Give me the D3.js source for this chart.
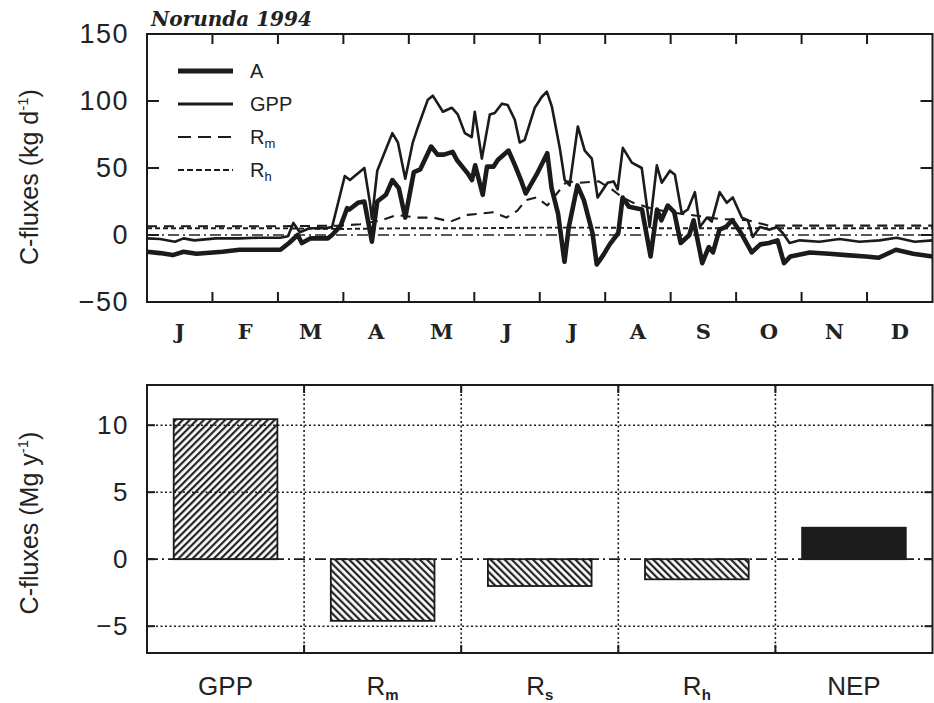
<!DOCTYPE html>
<html>
<head>
<meta charset="utf-8">
<script src="https://cdn.jsdelivr.net/npm/d3@7"></script>
<style>
  body { margin: 0; background: #fff; }
  svg { display: block; }
  .tick-label { font-family: 'Liberation Sans', Arial, sans-serif; fill: #222; }
</style>
</head>
<body>
<div class="svg-container"></div>
<script>
// ---- data ----
var months = ['J', 'F', 'M', 'A', 'M', 'J', 'J', 'A', 'S', 'O', 'N', 'D'];

var aDays = [0, 6, 12, 17, 23, 35, 43, 62, 66, 70, 72, 76, 84, 86, 90, 93, 94, 98, 101, 104.5,
  107, 111, 114, 117, 120, 124, 127, 132, 135, 138, 142, 144, 149, 151, 152.5, 156, 158, 161,
  163, 168, 171, 174, 176, 181, 186, 188, 191, 194, 196, 200, 203, 207, 209, 212, 215, 219, 221,
  224, 230, 234, 237, 239, 242, 245, 248, 252, 254, 258, 261, 263, 266, 269, 272, 276, 281, 285,
  289, 293, 296, 299, 308, 317, 325, 334, 340, 348, 356, 365];
var aValues = [-12.5, -13.5, -15, -12.5, -14, -12.5, -11, -11, -6, 0, -6, -2.5, -2.5, 0, 7, 20, 19, 24, 25, -5,
  25, 30, 41, 35, 13, 47, 49, 66, 60, 60, 62, 56, 46, 41, 52, 30, 51, 51,
  56, 63, 52, 40, 31, 45, 61, 35, 16, -20, 6, 37, 26, 1.5, -22, -15, -7, 1.5, 28,
  21, 19, -16, 19, 11, 22, 17, -6, 0, 11, -21, -9, -13, 4, 6, 11, 1.5, -13, -7,
  -6, -4, -21, -16, -13, -14, -15, -16, -17, -11, -14, -16];

var gppDays = [0, 6, 13, 17, 22, 32, 43, 52, 62, 65.5, 68, 71, 75.5, 83, 86, 91.9, 94.3, 101, 103.6, 104.5,
  107, 114, 116.6, 120, 123.5, 126, 130.5, 132.8, 137.5, 141.6, 144.4, 147.7, 150.9, 152.3, 155.6,
  159.3, 161.6, 164.9, 167.6, 170.9, 173.2, 175.5, 180.2, 183.4, 185.8, 188.1, 191.8, 194.1, 196.4,
  200.2, 203.4, 206.7, 209.4, 214, 216.8, 218.7, 221.1, 225.3, 229.9, 233.6, 236.9, 239.2, 243,
  245.3, 248.5, 251.3, 254.6, 256.9, 260.2, 262.4, 266.1, 269.4, 272.2, 276.4, 279.2, 281.5, 284.8,
  289.4, 292.6, 295.4, 298.6, 303.3, 312.5, 321.8, 331.1, 340.4, 348.3, 356.7, 365];
var gppValues = [-2.5, -3, -5, -2.5, -4, -2.5, -2.5, -2, -2, -1, 9, 2, 5, 5, 6, 44, 41, 50, 24, 12,
  48, 76, 69, 42, 69, 81, 101, 104, 92, 95, 90, 76, 73, 92, 57,
  90, 91, 98, 97, 86, 69, 71, 95, 103, 107, 96, 65, 41, 37,
  81, 63, 57, 28, 39, 40, 34, 65, 54, 50, 6, 52, 39, 48,
  45, 16, 19, 32, 6, 13, 10, 32, 24, 28, 13, 11, -1.5, 6,
  4, 6, 1.5, -6, -4, -5, -3, -5, -4, -2, -5, -4];

var rmDays = [0, 30, 60, 90, 99, 109, 116, 125, 133, 141, 149, 155, 161, 167, 172, 176, 181, 186,
  195, 201, 210, 216, 221, 226, 234, 243, 257, 266, 279, 289, 303, 330, 365];
var rmValues = [6.5, 6.5, 6.5, 7, 8, 11, 15, 13, 13, 10, 15, 16, 17, 13, 18, 26, 28, 22,
  40, 39, 40, 34, 28, 24, 20, 17, 14, 12, 11, 7, 7, 7, 7];

var rhDays = [0, 60, 90, 120, 150, 180, 210, 240, 270, 300, 330, 365];
var rhValues = [5, 5, 4.5, 5, 5, 5.5, 5.5, 5, 5, 5, 5, 5];

var yTicksTop = [-50, 0, 50, 100, 150];

var barNames = ['GPP', 'Rm', 'Rs', 'Rh', 'NEP'];
var barLabels = [['GPP', ''], ['R', 'm'], ['R', 's'], ['R', 'h'], ['NEP', '']];
var barValues = [10.45, -4.6, -2.0, -1.5, 2.35];
var yTicksBottom = [-5, 0, 5, 10];

// ---- layout ----
var width = 934;
var height = 703;
var left = 147;
var right = 932.5;
var topBox = { top: 34, bottom: 302 };
var botBox = { top: 385, bottom: 653 };

var svg = d3.select('.svg-container')
  .append('svg')
  .attr('width', width)
  .attr('height', height);

var defs = svg.append('defs');

// Hatch patterns for the bars
function hatch(id, angle) {
  var p = defs.append('pattern')
    .attr('id', id)
    .attr('patternUnits', 'userSpaceOnUse')
    .attr('width', 5)
    .attr('height', 5)
    .attr('patternTransform', 'rotate(' + angle + ')');
  p.append('rect').attr('width', 5).attr('height', 5).attr('fill', '#fff');
  p.append('line')
    .attr('x1', 1.2).attr('y1', 0).attr('x2', 1.2).attr('y2', 5)
    .attr('stroke', '#151515')
    .attr('stroke-width', 2.1);
}
hatch('hatchFwd', 45);
hatch('hatchBack', -45);

// ================= TOP CHART =================
var xDay = d3.scaleLinear().domain([0, 365]).range([left, right]);
var xMonth = d3.scaleBand().domain(d3.range(12)).range([left, right]);
var yTop = d3.scaleLinear().domain([-50, 150]).range([topBox.bottom, topBox.top]);

var topG = svg.append('g');

// zero reference line
topG.append('line')
  .attr('x1', left).attr('x2', right)
  .attr('y1', yTop(0)).attr('y2', yTop(0))
  .attr('stroke', '#222')
  .attr('stroke-width', 1.7)
  .attr('stroke-dasharray', '11,4,2,4');

function seriesLine(days, values) {
  return d3.line()
    .x(function(d, i) { return xDay(days[i]); })
    .y(function(d) { return yTop(d); })(values);
}

var series = [
  { days: rhDays, values: rhValues, width: 1.9, dash: '5,3' },
  { days: rmDays, values: rmValues, width: 2.1, dash: '10,7' },
  { days: gppDays, values: gppValues, width: 2.6, dash: null },
  { days: aDays, values: aValues, width: 4.6, dash: null }
];

topG.selectAll('path.series')
  .data(series)
  .enter()
  .append('path')
  .attr('class', 'series')
  .attr('d', function(d) { return seriesLine(d.days, d.values); })
  .attr('fill', 'none')
  .attr('stroke', '#1b1b1b')
  .attr('stroke-linejoin', 'round')
  .attr('stroke-width', function(d) { return d.width; })
  .attr('stroke-dasharray', function(d) { return d.dash; });

// frame
topG.append('rect')
  .attr('x', left).attr('y', topBox.top)
  .attr('width', right - left).attr('height', topBox.bottom - topBox.top)
  .attr('fill', 'none')
  .attr('stroke', '#1b1b1b')
  .attr('stroke-width', 2);

// month ticks (inward, top and bottom)
var monthStarts = xMonth.domain().slice(1);
topG.selectAll('line.mtick-b')
  .data(monthStarts)
  .enter()
  .append('line')
  .attr('x1', function(d) { return xMonth(d); })
  .attr('x2', function(d) { return xMonth(d); })
  .attr('y1', topBox.bottom).attr('y2', topBox.bottom - 10)
  .attr('stroke', '#1b1b1b').attr('stroke-width', 2);
topG.selectAll('line.mtick-t')
  .data(monthStarts)
  .enter()
  .append('line')
  .attr('x1', function(d) { return xMonth(d); })
  .attr('x2', function(d) { return xMonth(d); })
  .attr('y1', topBox.top).attr('y2', topBox.top + 10)
  .attr('stroke', '#1b1b1b').attr('stroke-width', 2);

// y ticks inward, both sides
[left, right].forEach(function(xEdge, k) {
  topG.selectAll('line.ytick' + k)
    .data([0, 50, 100])
    .enter()
    .append('line')
    .attr('x1', xEdge).attr('x2', xEdge + (k === 0 ? 12 : -12))
    .attr('y1', function(d) { return yTop(d); })
    .attr('y2', function(d) { return yTop(d); })
    .attr('stroke', '#1b1b1b').attr('stroke-width', 2);
});

// y axis labels
var yAxisTop = topG.append('g')
  .attr('transform', 'translate(' + left + ',0)')
  .call(d3.axisLeft(yTop).tickValues(yTicksTop).tickSize(0).tickPadding(18));
yAxisTop.select('.domain').remove();
yAxisTop.selectAll('text')
  .attr('class', 'tick-label')
  .style('font-size', '27px')
  .style('letter-spacing', '1.5px');

// month labels
topG.selectAll('text.month')
  .data(d3.range(12))
  .enter()
  .append('text')
  .attr('class', 'month')
  .attr('x', function(d) { return xMonth(d) + xMonth.bandwidth() / 2; })
  .attr('y', 339)
  .attr('text-anchor', 'middle')
  .style('font-family', "'DejaVu Serif', serif")
  .style('font-weight', 'bold')
  .style('font-size', '21px')
  .style('fill', '#222')
  .text(function(d) { return months[d]; });

// title
topG.append('text')
  .attr('x', 151).attr('y', 26)
  .style('font-family', "'DejaVu Serif', serif")
  .style('font-weight', 'bold')
  .style('font-style', 'italic')
  .style('font-size', '20px')
  .style('fill', '#222')
  .text('Norunda 1994');

// y title
var yTitleTop = topG.append('text')
  .attr('transform', 'translate(38,177) rotate(-90)')
  .attr('text-anchor', 'middle')
  .attr('class', 'tick-label')
  .style('font-size', '25px');
yTitleTop.append('tspan').text('C-fluxes (kg d');
yTitleTop.append('tspan').attr('dy', -10).style('font-size', '15px').text('-1');
yTitleTop.append('tspan').attr('dy', 10).text(')');

// legend
var legendItems = [
  { name: 'A', sub: '', width: 5, dash: null },
  { name: 'GPP', sub: '', width: 3, dash: null },
  { name: 'R', sub: 'm', width: 2, dash: '13,7' },
  { name: 'R', sub: 'h', width: 2, dash: '6,3' }
];
var legend = topG.selectAll('g.legend')
  .data(legendItems)
  .enter()
  .append('g')
  .attr('class', 'legend')
  .attr('transform', function(d, i) { return 'translate(178,' + (71 + i * 33) + ')'; });
legend.append('line')
  .attr('x1', 0).attr('x2', 55)
  .attr('stroke', '#1b1b1b')
  .attr('stroke-width', function(d) { return d.width; })
  .attr('stroke-dasharray', function(d) { return d.dash; });
var legendText = legend.append('text')
  .attr('x', 72).attr('y', 7)
  .attr('class', 'tick-label')
  .style('font-size', '20px');
legendText.append('tspan').text(function(d) { return d.name; });
legendText.append('tspan')
  .attr('dy', 4)
  .style('font-size', '13px')
  .text(function(d) { return d.sub; });

// ================= BOTTOM CHART =================
var xBar = d3.scaleBand().domain(barNames).range([left, right]);
var yBot = d3.scaleLinear().domain([-7, 13]).range([botBox.bottom, botBox.top]);
var barWidth = xBar.bandwidth() * 0.66;

var botG = svg.append('g');

var fills = ['url(#hatchFwd)', 'url(#hatchBack)', 'url(#hatchBack)', 'url(#hatchBack)', '#1c1c1c'];

botG.selectAll('rect.bar')
  .data(barValues)
  .enter()
  .append('rect')
  .attr('class', 'bar')
  .attr('x', function(d, i) { return xBar(barNames[i]) + (xBar.bandwidth() - barWidth) / 2; })
  .attr('y', function(d) { return yBot(Math.max(0, d)); })
  .attr('width', barWidth)
  .attr('height', function(d) { return Math.abs(yBot(d) - yBot(0)); })
  .attr('fill', function(d, i) { return fills[i]; })
  .attr('stroke', '#1b1b1b')
  .attr('stroke-width', 1.8);

// horizontal grid
botG.selectAll('line.hgrid')
  .data(yTicksBottom)
  .enter()
  .append('line')
  .attr('class', 'hgrid')
  .attr('x1', left).attr('x2', right)
  .attr('y1', function(d) { return yBot(d); })
  .attr('y2', function(d) { return yBot(d); })
  .attr('stroke', '#1b1b1b')
  .attr('stroke-width', function(d) { return d === 0 ? 1.8 : 1.6; })
  .attr('stroke-dasharray', function(d) { return d === 0 ? '11,4,2,4' : '2,2.5'; });

// vertical separators
botG.selectAll('line.vgrid')
  .data(barNames.slice(1))
  .enter()
  .append('line')
  .attr('class', 'vgrid')
  .attr('x1', function(d) { return xBar(d); })
  .attr('x2', function(d) { return xBar(d); })
  .attr('y1', botBox.top).attr('y2', botBox.bottom)
  .attr('stroke', '#1b1b1b')
  .attr('stroke-width', 1.6)
  .attr('stroke-dasharray', '2,2.5');

// frame
botG.append('rect')
  .attr('x', left).attr('y', botBox.top)
  .attr('width', right - left).attr('height', botBox.bottom - botBox.top)
  .attr('fill', 'none')
  .attr('stroke', '#1b1b1b')
  .attr('stroke-width', 2);

// short solid ticks at grid ends
[left, right].forEach(function(xEdge, k) {
  botG.selectAll('line.btick' + k)
    .data(yTicksBottom)
    .enter()
    .append('line')
    .attr('x1', xEdge).attr('x2', xEdge + (k === 0 ? 8 : -8))
    .attr('y1', function(d) { return yBot(d); })
    .attr('y2', function(d) { return yBot(d); })
    .attr('stroke', '#1b1b1b').attr('stroke-width', 2);
});
botG.selectAll('line.vtick')
  .data(barNames.slice(1))
  .enter()
  .append('line')
  .attr('x1', function(d) { return xBar(d); })
  .attr('x2', function(d) { return xBar(d); })
  .attr('y1', botBox.top).attr('y2', botBox.top + 8)
  .attr('stroke', '#1b1b1b').attr('stroke-width', 2);
botG.selectAll('line.vtickb')
  .data(barNames.slice(1))
  .enter()
  .append('line')
  .attr('x1', function(d) { return xBar(d); })
  .attr('x2', function(d) { return xBar(d); })
  .attr('y1', botBox.bottom).attr('y2', botBox.bottom - 8)
  .attr('stroke', '#1b1b1b').attr('stroke-width', 2);

// y axis labels
var yAxisBot = botG.append('g')
  .attr('transform', 'translate(' + left + ',0)')
  .call(d3.axisLeft(yBot).tickValues(yTicksBottom).tickSize(0).tickPadding(18));
yAxisBot.select('.domain').remove();
yAxisBot.selectAll('text')
  .attr('class', 'tick-label')
  .style('font-size', '26px')
  .style('letter-spacing', '1.5px');

// category labels
var catText = botG.selectAll('text.cat')
  .data(barLabels)
  .enter()
  .append('text')
  .attr('class', 'tick-label cat')
  .attr('x', function(d, i) { return xBar(barNames[i]) + xBar.bandwidth() / 2; })
  .attr('y', 695)
  .attr('text-anchor', 'middle')
  .style('font-size', '26px');
catText.append('tspan').text(function(d) { return d[0]; });
catText.append('tspan')
  .attr('dy', 5)
  .style('font-size', '15px')
  .style('font-weight', 'bold')
  .text(function(d) { return d[1]; });

// y title
var yTitleBot = botG.append('text')
  .attr('transform', 'translate(38,523) rotate(-90)')
  .attr('text-anchor', 'middle')
  .attr('class', 'tick-label')
  .style('font-size', '25px');
yTitleBot.append('tspan').text('C-fluxes (Mg y');
yTitleBot.append('tspan').attr('dy', -10).style('font-size', '15px').text('-1');
yTitleBot.append('tspan').attr('dy', 10).text(')');
</script>
</body>
</html>
